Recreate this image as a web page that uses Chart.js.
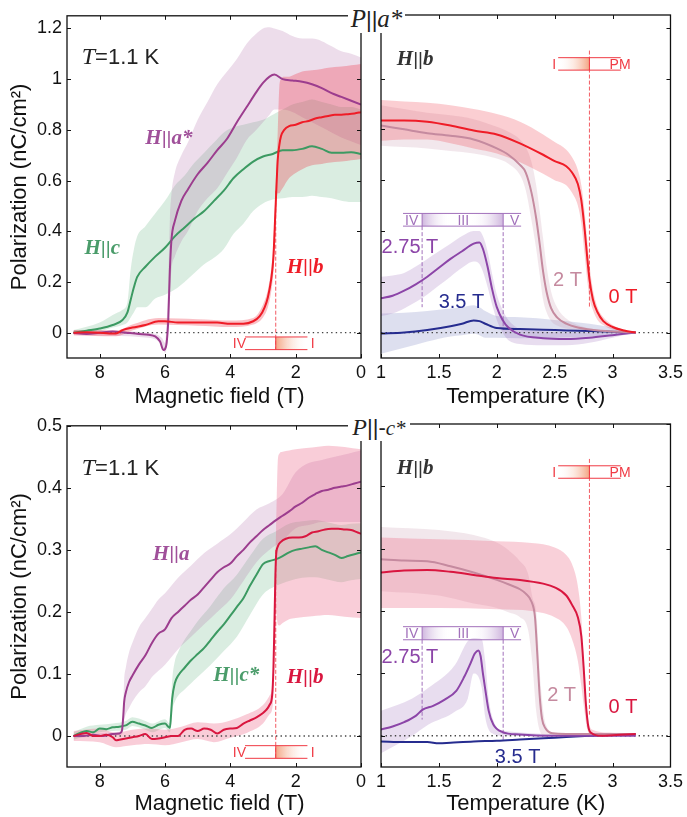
<!DOCTYPE html>
<html>
<head>
<meta charset="utf-8">
<script src="https://cdn.jsdelivr.net/npm/chart.js@4.4.1/dist/chart.umd.min.js"></script>
<style>
  body { margin: 0; background: #fff; width: 687px; height: 817px; position: relative; overflow: hidden; }
  canvas { position: absolute; }
  .ttl { position: absolute; background: #fff; text-align: center; white-space: nowrap; color: #222; }
  .it { font-family: "Liberation Serif", serif; font-style: italic; }
  .bar { font-family: "Liberation Sans", sans-serif; }
</style>
</head>
<body>
<canvas id="tl" width="372" height="410" style="left:0;top:0"></canvas>
<canvas id="tr" width="315" height="410" style="left:372px;top:0"></canvas>
<canvas id="bl" width="372" height="407" style="left:0;top:410px"></canvas>
<canvas id="br" width="315" height="407" style="left:372px;top:410px"></canvas>
<div class="ttl" style="left:348px;top:0;width:57px;height:33px;line-height:33px;padding-top:2px;box-sizing:border-box">
  <span class="it" style="font-size:25px">P</span><span class="bar" style="font-size:22px">||</span><span class="it" style="font-size:25px">a*</span>
</div>
<div class="ttl" style="left:348px;top:410px;width:62px;height:31px;line-height:31px;padding-top:2px;box-sizing:border-box">
  <span class="it" style="font-size:24px">P</span><span class="bar" style="font-size:22px">||-</span><span class="it" style="font-size:21px">c*</span>
</div>

<script>
// ---- axes ----
const fieldTicks = [0, 2, 4, 6, 8];
const fieldTickText = ['0', '2', '4', '6', '8'];
const tempTicks = [1, 1.5, 2, 2.5, 3, 3.5];
const tempTickText = ['1', '1.5', '2', '2.5', '3', '3.5'];
const topPolTicks = [0, 0.2, 0.4, 0.6, 0.8, 1, 1.2];
const topPolTickText = ['0', '0.2', '0.4', '0.6', '0.8', '1', '1.2'];
const botPolTicks = [0, 0.1, 0.2, 0.3, 0.4, 0.5];
const botPolTickText = ['0', '0.1', '0.2', '0.3', '0.4', '0.5'];
const zeroField = [8.8, 0];
const zeroTemp = [1, 3.5];

// ---- P || a*, field sweeps at T = 1.1 K ----
const tlFieldA = [8.8, 8.4, 8.0, 7.6, 7.2, 6.8, 6.5, 6.3, 6.15, 6.05, 6.0, 5.95, 5.9, 5.85, 5.8, 5.7, 5.5, 5.3, 5.0, 4.7, 4.4, 4.1, 3.8, 3.5, 3.2, 3.0, 2.8, 2.65, 2.4, 2.1, 1.8, 1.5, 1.2, 0.9, 0.6, 0.3, 0];
const tlPolA = [0, -0.005, 0, 0.005, 0, -0.005, -0.008, -0.015, -0.035, -0.068, -0.065, -0.04, 0.05, 0.25, 0.37, 0.44, 0.52, 0.565, 0.625, 0.67, 0.72, 0.765, 0.83, 0.89, 0.95, 0.985, 1.01, 1.018, 1.0, 0.995, 0.99, 0.98, 0.965, 0.945, 0.93, 0.915, 0.9];
const tlBandAField = [8.8, 6.5, 6.1, 6.0, 5.9, 5.85, 5.8, 5.7, 5.5, 5.3, 5.0, 4.7, 4.4, 4.1, 3.8, 3.5, 3.2, 3.0, 2.8, 2.65, 2.4, 2.1, 1.8, 1.5, 1.2, 0.9, 0.6, 0.3, 0];
const tlBandAHi = [0.01, 0, -0.02, -0.04, 0.2, 0.45, 0.55, 0.63, 0.7, 0.75, 0.84, 0.91, 0.98, 1.03, 1.08, 1.14, 1.18, 1.2, 1.205, 1.2, 1.19, 1.17, 1.16, 1.16, 1.15, 1.13, 1.11, 1.1, 1.085];
const tlBandALo = [-0.01, -0.02, -0.05, -0.08, 0, 0.15, 0.25, 0.3, 0.36, 0.4, 0.48, 0.53, 0.57, 0.63, 0.69, 0.76, 0.8, 0.83, 0.86, 0.88, 0.88, 0.87, 0.85, 0.83, 0.81, 0.79, 0.77, 0.755, 0.74];

const tlFieldC = [8.8, 8.4, 8.0, 7.6, 7.3, 7.15, 7.05, 6.95, 6.85, 6.6, 6.3, 6.0, 5.7, 5.4, 5.1, 4.8, 4.5, 4.2, 3.9, 3.6, 3.3, 3.0, 2.7, 2.4, 2.1, 1.8, 1.5, 1.2, 0.9, 0.6, 0.3, 0];
const tlPolC = [0, 0.008, 0.016, 0.03, 0.05, 0.08, 0.13, 0.18, 0.22, 0.26, 0.3, 0.335, 0.38, 0.415, 0.45, 0.48, 0.52, 0.56, 0.61, 0.645, 0.675, 0.695, 0.705, 0.72, 0.72, 0.725, 0.735, 0.725, 0.71, 0.71, 0.712, 0.705];
const tlBandCField = [8.8, 8.0, 7.6, 7.3, 7.15, 7.05, 6.95, 6.85, 6.6, 6.3, 6.0, 5.7, 5.4, 5.1, 4.8, 4.5, 4.2, 3.9, 3.6, 3.3, 3.0, 2.7, 2.4, 2.1, 1.8, 1.5, 1.2, 0.9, 0.6, 0.3, 0];
const tlBandCHi = [0.01, 0.04, 0.07, 0.09, 0.12, 0.25, 0.33, 0.38, 0.42, 0.47, 0.52, 0.58, 0.62, 0.67, 0.71, 0.75, 0.79, 0.81, 0.82, 0.83, 0.84, 0.86, 0.88, 0.9, 0.91, 0.92, 0.91, 0.9, 0.89, 0.89, 0.88];
const tlBandCLo = [-0.005, 0.005, 0.02, 0.03, 0.04, 0.06, 0.08, 0.1, 0.1, 0.135, 0.15, 0.17, 0.2, 0.235, 0.27, 0.295, 0.33, 0.39, 0.43, 0.48, 0.51, 0.525, 0.53, 0.535, 0.535, 0.54, 0.535, 0.53, 0.52, 0.515, 0.515];

const tlFieldB = [8.8, 8.4, 8.0, 7.7, 7.5, 7.3, 7.0, 6.6, 6.2, 6.0, 5.6, 5.2, 4.8, 4.4, 4.0, 3.6, 3.3, 3.1, 2.95, 2.85, 2.75, 2.68, 2.62, 2.58, 2.55, 2.5, 2.45, 2.35, 2.2, 2.0, 1.8, 1.6, 1.4, 1.2, 1.0, 0.8, 0.6, 0.4, 0.2, 0];
const tlPolB = [0, 0.002, 0, -0.003, -0.003, 0.01, 0.02, 0.03, 0.045, 0.045, 0.04, 0.04, 0.04, 0.04, 0.035, 0.035, 0.045, 0.065, 0.1, 0.14, 0.21, 0.3, 0.48, 0.6, 0.68, 0.74, 0.775, 0.8, 0.815, 0.82, 0.83, 0.835, 0.845, 0.85, 0.855, 0.86, 0.86, 0.862, 0.865, 0.87];
const tlBandBField = [8.8, 7.5, 7.0, 6.2, 5.0, 4.0, 3.3, 3.0, 2.85, 2.75, 2.68, 2.62, 2.56, 2.5, 2.45, 2.35, 2.2, 2.0, 1.8, 1.5, 1.2, 1.0, 0.6, 0.3, 0];
const tlBandBHi = [0.01, 0.008, 0.032, 0.058, 0.053, 0.048, 0.058, 0.11, 0.17, 0.25, 0.36, 0.55, 0.75, 0.97, 1.0, 1.01, 1.01, 1.02, 1.03, 1.035, 1.04, 1.045, 1.05, 1.055, 1.06];
const tlBandBLo = [-0.01, -0.014, 0.008, 0.032, 0.027, 0.022, 0.032, 0.06, 0.1, 0.16, 0.24, 0.4, 0.55, 0.55, 0.56, 0.58, 0.61, 0.63, 0.645, 0.66, 0.665, 0.67, 0.675, 0.68, 0.685];

// ---- P || a*, temperature sweeps, H || b ----
const trTemp0 = [1.0, 1.2, 1.4, 1.6, 1.8, 2.0, 2.2, 2.4, 2.5, 2.6, 2.65, 2.7, 2.73, 2.76, 2.78, 2.8, 2.83, 2.87, 2.92, 3.0, 3.1, 3.2];
const trPol0 = [0.835, 0.835, 0.83, 0.815, 0.795, 0.78, 0.745, 0.7, 0.675, 0.655, 0.63, 0.585, 0.52, 0.4, 0.3, 0.21, 0.13, 0.08, 0.045, 0.022, 0.008, 0];
const trHi0 = [0.915, 0.91, 0.905, 0.895, 0.88, 0.86, 0.83, 0.78, 0.75, 0.72, 0.69, 0.64, 0.58, 0.47, 0.37, 0.27, 0.17, 0.1, 0.06, 0.03, 0.01, 0];
const trLo0 = [0.755, 0.76, 0.76, 0.745, 0.725, 0.705, 0.67, 0.625, 0.6, 0.58, 0.55, 0.5, 0.43, 0.3, 0.21, 0.14, 0.09, 0.05, 0.03, 0.012, 0.004, 0];

const trTemp2 = [1.0, 1.2, 1.4, 1.6, 1.8, 2.0, 2.1, 2.2, 2.25, 2.3, 2.34, 2.37, 2.4, 2.43, 2.47, 2.52, 2.6, 2.7, 2.9, 3.2];
const trPol2 = [0.815, 0.8, 0.785, 0.775, 0.76, 0.725, 0.7, 0.66, 0.63, 0.55, 0.45, 0.35, 0.24, 0.16, 0.095, 0.06, 0.035, 0.02, 0.007, 0];
const trHi2 = [0.895, 0.88, 0.865, 0.855, 0.84, 0.81, 0.79, 0.76, 0.73, 0.67, 0.58, 0.48, 0.37, 0.26, 0.16, 0.1, 0.055, 0.03, 0.01, 0];
const trLo2 = [0.735, 0.73, 0.725, 0.715, 0.705, 0.685, 0.665, 0.62, 0.56, 0.44, 0.33, 0.23, 0.13, 0.08, 0.045, 0.028, 0.016, 0.01, 0.003, 0];

const trTemp275 = [1.0, 1.1, 1.2, 1.3, 1.4, 1.5, 1.6, 1.7, 1.8, 1.85, 1.88, 1.92, 1.96, 2.0, 2.05, 2.1, 2.2, 2.4, 2.6, 2.8, 3.0, 3.2];
const trPol275 = [0.135, 0.145, 0.165, 0.19, 0.22, 0.255, 0.29, 0.32, 0.35, 0.355, 0.33, 0.26, 0.17, 0.1, 0.05, 0.02, -0.008, -0.022, -0.025, -0.02, -0.01, 0];
const trHi275 = [0.22, 0.225, 0.235, 0.26, 0.29, 0.32, 0.35, 0.38, 0.4, 0.4, 0.38, 0.32, 0.23, 0.15, 0.09, 0.05, 0.015, 0.005, 0, 0, 0, 0];
const trLo275 = [0.065, 0.075, 0.095, 0.12, 0.15, 0.185, 0.22, 0.255, 0.28, 0.27, 0.24, 0.18, 0.11, 0.05, 0, -0.03, -0.045, -0.05, -0.05, -0.04, -0.02, 0];

const trTemp35 = [1.0, 1.2, 1.4, 1.6, 1.7, 1.8, 1.85, 1.9, 2.0, 2.2, 2.5, 2.8, 3.0, 3.2];
const trPol35 = [-0.004, 0, 0.01, 0.025, 0.035, 0.048, 0.045, 0.035, 0.018, 0.014, 0.01, 0.006, 0.003, 0];
const trHi35 = [0.075, 0.078, 0.085, 0.095, 0.1, 0.108, 0.1, 0.085, 0.065, 0.06, 0.05, 0.035, 0.02, 0];
const trLo35 = [-0.083, -0.06, -0.035, -0.015, -0.01, -0.005, -0.01, -0.02, -0.02, -0.022, -0.02, -0.015, -0.008, 0];

// ---- P || -c*, field sweeps at T = 1.1 K ----
const blFieldA = [8.8, 8.5, 8.2, 7.9, 7.6, 7.4, 7.32, 7.28, 7.25, 7.2, 7.1, 7.0, 6.8, 6.6, 6.4, 6.2, 6.0, 5.8, 5.6, 5.4, 5.2, 5.0, 4.8, 4.6, 4.4, 4.2, 4.0, 3.8, 3.6, 3.4, 3.2, 3.0, 2.8, 2.6, 2.4, 2.2, 2.0, 1.8, 1.6, 1.4, 1.2, 1.0, 0.8, 0.6, 0.4, 0.2, 0];
const blPolA = [0, 0, 0.002, 0, 0.003, 0.004, 0.008, 0.03, 0.055, 0.07, 0.087, 0.097, 0.115, 0.13, 0.15, 0.165, 0.172, 0.19, 0.2, 0.21, 0.22, 0.228, 0.24, 0.252, 0.264, 0.272, 0.278, 0.29, 0.3, 0.312, 0.322, 0.332, 0.34, 0.348, 0.355, 0.362, 0.37, 0.376, 0.384, 0.39, 0.395, 0.397, 0.4, 0.402, 0.404, 0.407, 0.41];
const blBandAField = [8.8, 7.4, 7.3, 7.25, 7.2, 7.1, 7.0, 6.8, 6.6, 6.4, 6.2, 6.0, 5.6, 5.2, 4.8, 4.4, 4.0, 3.6, 3.2, 2.8, 2.4, 2.0, 1.6, 1.2, 0.8, 0.4, 0];
const blBandAHi = [0.003, 0.007, 0.02, 0.09, 0.11, 0.135, 0.15, 0.175, 0.19, 0.205, 0.22, 0.23, 0.255, 0.275, 0.295, 0.31, 0.325, 0.345, 0.365, 0.375, 0.39, 0.425, 0.44, 0.445, 0.45, 0.455, 0.46];
const blBandALo = [-0.003, 0.001, 0.004, 0.025, 0.035, 0.045, 0.055, 0.07, 0.08, 0.095, 0.105, 0.115, 0.14, 0.16, 0.18, 0.2, 0.22, 0.25, 0.28, 0.3, 0.315, 0.335, 0.34, 0.345, 0.345, 0.345, 0.345];

const blFieldC = [8.8, 8.6, 8.4, 8.2, 8.0, 7.8, 7.6, 7.4, 7.2, 7.0, 6.8, 6.6, 6.4, 6.2, 6.0, 5.9, 5.85, 5.82, 5.78, 5.7, 5.6, 5.4, 5.2, 5.0, 4.8, 4.6, 4.4, 4.2, 4.0, 3.8, 3.6, 3.4, 3.2, 3.0, 2.8, 2.6, 2.4, 2.2, 2.0, 1.8, 1.6, 1.4, 1.2, 1.0, 0.8, 0.6, 0.4, 0.2, 0];
const blPolC = [0, 0.005, 0.008, 0.006, 0.012, 0.011, 0.014, 0.015, 0.017, 0.023, 0.02, 0.017, 0.013, 0.018, 0.02, 0.015, 0.013, 0.03, 0.06, 0.085, 0.097, 0.11, 0.122, 0.132, 0.142, 0.155, 0.168, 0.18, 0.194, 0.208, 0.222, 0.242, 0.26, 0.277, 0.282, 0.285, 0.29, 0.296, 0.3, 0.302, 0.304, 0.306, 0.3, 0.296, 0.292, 0.287, 0.29, 0.293, 0.296];
const blBandCField = [8.8, 8.4, 8.0, 7.6, 7.2, 7.0, 6.6, 6.4, 6.0, 5.85, 5.82, 5.78, 5.7, 5.6, 5.4, 5.2, 5.0, 4.6, 4.2, 3.8, 3.4, 3.0, 2.6, 2.2, 1.8, 1.4, 1.0, 0.6, 0.3, 0];
const blBandCHi = [0.006, 0.015, 0.018, 0.02, 0.024, 0.03, 0.024, 0.02, 0.027, 0.02, 0.05, 0.09, 0.12, 0.135, 0.155, 0.17, 0.185, 0.21, 0.238, 0.26, 0.29, 0.318, 0.33, 0.342, 0.346, 0.348, 0.344, 0.34, 0.342, 0.343];
const blBandCLo = [-0.006, 0, 0.006, 0.008, 0.01, 0.016, 0.01, 0.006, 0.013, 0.006, 0.015, 0.04, 0.055, 0.065, 0.075, 0.085, 0.095, 0.115, 0.137, 0.16, 0.195, 0.228, 0.242, 0.25, 0.255, 0.256, 0.252, 0.248, 0.251, 0.253];

const blFieldB = [8.8, 8.6, 8.4, 8.2, 8.0, 7.8, 7.6, 7.5, 7.4, 7.2, 7.0, 6.8, 6.6, 6.4, 6.2, 6.0, 5.8, 5.6, 5.4, 5.2, 5.0, 4.8, 4.6, 4.4, 4.2, 4.0, 3.8, 3.6, 3.4, 3.2, 3.0, 2.9, 2.8, 2.72, 2.68, 2.65, 2.62, 2.6, 2.55, 2.45, 2.3, 2.1, 1.9, 1.7, 1.5, 1.3, 1.1, 0.9, 0.7, 0.5, 0.3, 0.1, 0];
const blPolB = [0, 0.003, 0.005, 0, 0, 0.002, -0.002, -0.007, -0.006, -0.004, -0.002, 0, 0.003, -0.005, -0.004, -0.002, 0, 0, 0.01, 0.012, 0.008, 0.012, 0.01, 0.004, 0.01, 0.012, 0.013, 0.02, 0.025, 0.03, 0.037, 0.042, 0.05, 0.065, 0.11, 0.18, 0.26, 0.29, 0.305, 0.313, 0.318, 0.32, 0.32, 0.322, 0.328, 0.33, 0.333, 0.334, 0.334, 0.333, 0.332, 0.328, 0.326];
const blBandBField = [8.8, 8.0, 7.5, 7.0, 6.5, 6.0, 5.5, 5.0, 4.5, 4.0, 3.5, 3.0, 2.8, 2.7, 2.65, 2.6, 2.55, 2.5, 2.4, 2.2, 2.0, 1.5, 1.0, 0.5, 0];
const blBandBHi = [0.008, 0.012, 0.005, 0.01, 0.012, 0.01, 0.015, 0.022, 0.02, 0.025, 0.035, 0.05, 0.065, 0.09, 0.22, 0.33, 0.44, 0.455, 0.458, 0.46, 0.462, 0.465, 0.468, 0.466, 0.462];
const blBandBLo = [-0.008, -0.01, -0.018, -0.015, -0.013, -0.015, -0.01, -0.005, -0.01, -0.003, 0.005, 0.02, 0.035, 0.05, 0.12, 0.2, 0.18, 0.178, 0.182, 0.188, 0.19, 0.193, 0.195, 0.192, 0.19];

// ---- P || -c*, temperature sweeps, H || b ----
const brTemp0 = [1.0, 1.2, 1.4, 1.6, 1.8, 2.0, 2.2, 2.4, 2.5, 2.6, 2.65, 2.7, 2.73, 2.75, 2.77, 2.79, 2.82, 2.9, 3.0, 3.2];
const brPol0 = [0.262, 0.265, 0.266, 0.263, 0.258, 0.253, 0.25, 0.244, 0.238, 0.225, 0.21, 0.19, 0.16, 0.11, 0.05, 0.015, 0.004, 0, 0.001, 0.003];
const brBand0Temp = [1.0, 1.5, 2.0, 2.3, 2.5, 2.6, 2.65, 2.7, 2.73, 2.75, 2.78, 2.82, 3.0, 3.2];
const brHi0 = [0.318, 0.315, 0.312, 0.309, 0.302, 0.29, 0.275, 0.24, 0.19, 0.12, 0.04, 0.01, 0.005, 0.004];
const brLo0 = [0.205, 0.205, 0.203, 0.2, 0.19, 0.175, 0.155, 0.12, 0.08, 0.05, 0.012, 0, 0, 0.002];

const brTemp2 = [1.0, 1.2, 1.4, 1.6, 1.8, 2.0, 2.1, 2.2, 2.25, 2.3, 2.33, 2.35, 2.37, 2.39, 2.42, 2.48, 2.6, 3.2];
const brPol2 = [0.283, 0.281, 0.28, 0.272, 0.262, 0.25, 0.243, 0.235, 0.228, 0.215, 0.19, 0.13, 0.065, 0.028, 0.012, 0.004, 0.003, 0.003];
const brBand2Temp = [1.0, 1.5, 1.8, 2.0, 2.1, 2.2, 2.27, 2.31, 2.34, 2.38, 2.42, 2.5, 3.2];
const brHi2 = [0.335, 0.33, 0.322, 0.31, 0.298, 0.28, 0.26, 0.22, 0.2, 0.08, 0.02, 0.005, 0.003];
const brLo2 = [0.232, 0.225, 0.212, 0.205, 0.198, 0.19, 0.17, 0.11, 0.04, 0.004, 0, 0, 0.003];

const brTemp275 = [1.0, 1.1, 1.2, 1.3, 1.36, 1.45, 1.55, 1.65, 1.72, 1.77, 1.81, 1.84, 1.86, 1.88, 1.9, 1.93, 1.97, 2.05, 2.2, 2.5, 3.2];
const brPol275 = [0.01, 0.015, 0.022, 0.032, 0.042, 0.048, 0.058, 0.072, 0.095, 0.115, 0.132, 0.137, 0.128, 0.1, 0.075, 0.04, 0.018, 0.006, 0.002, 0, 0];
const brBand275Temp = [1.0, 1.27, 1.41, 1.64, 1.75, 1.8, 1.87, 1.9, 1.93, 1.97, 2.05, 3.2];
const brHi275 = [0.04, 0.06, 0.077, 0.114, 0.152, 0.157, 0.155, 0.12, 0.06, 0.025, 0.008, 0];
const brLo275 = [-0.028, 0, 0.018, 0.039, 0.06, 0.1, 0.077, 0.03, 0.01, 0.003, 0, 0];

const brTemp35 = [1.0, 1.2, 1.4, 1.5, 1.6, 1.8, 2.0, 2.2, 2.4, 2.6, 2.8, 3.0, 3.2];
const brPol35 = [-0.009, -0.01, -0.01, -0.012, -0.011, -0.009, -0.008, -0.006, -0.004, -0.002, 0, 0.002, 0.003];

// ---- phase boundaries ----
const fieldPhaseEdges = [3.55, 2.61, 1.64];      // IV | I  (field, T)
const tempPhase0TEdges = [2.53, 2.8, 3.07];      // I | PM  (temperature, K)
const tempPhase275Edges = [1.19, 1.355, 2.055, 2.21]; // IV | III | V

// ---- colours ----
const RED = '#ef1c27', CRIMSON = '#d9163f', PURPLE = '#9c3d8e', GREEN = '#3c9a62';
const PINK = '#c58a9f', VIOLET = '#8c45a8', NAVY = '#262c8f';
const BARRED = '#f03a44', BARVIOLET = '#a271bb';

function pts(xs, ys) { return xs.map((x, i) => ({ x: x, y: ys[i] })); }
function lineSet(xs, ys, color) {
  return { data: pts(xs, ys), borderColor: color, borderWidth: 2, pointRadius: 0, fill: false, cubicInterpolationMode: 'monotone' };
}
function bandSets(xs, hi, lo, color) {
  return [
    { data: pts(xs, hi), borderColor: 'transparent', borderWidth: 0, pointRadius: 0, backgroundColor: color, fill: '+1', cubicInterpolationMode: 'monotone' },
    { data: pts(xs, lo), borderColor: 'transparent', borderWidth: 0, pointRadius: 0, fill: false, cubicInterpolationMode: 'monotone' }
  ];
}
function zeroSet(xs) {
  return { data: pts(xs, [0, 0]), borderColor: '#444', borderWidth: 1.4, borderDash: [1.4, 3.2], pointRadius: 0, fill: false };
}
function dashSet(x, y0, y1, color) {
  return { data: pts([x, x], [y0, y1]), borderColor: color, borderWidth: 1, borderDash: [4, 2], pointRadius: 0, fill: false };
}

const sans = s => s + 'px "Liberation Sans"';
const serifIt = s => 'italic bold ' + s + 'px "Liberation Serif"';

const framePlugin = {
  id: 'frame',
  afterDatasetsDraw(chart) {
    const { ctx, chartArea: a, scales: { x, y } } = chart;
    ctx.save();
    ctx.strokeStyle = '#111';
    ctx.lineWidth = 1.3;
    ctx.strokeRect(a.left, a.top, a.right - a.left, a.bottom - a.top);
    ctx.lineWidth = 1;
    ctx.beginPath();
    x.ticks.forEach(t => {
      const p = Math.round(x.getPixelForValue(t.value)) + 0.5;
      ctx.moveTo(p, a.bottom); ctx.lineTo(p, a.bottom - 4);
      ctx.moveTo(p, a.top); ctx.lineTo(p, a.top + 4);
    });
    y.ticks.forEach(t => {
      const p = Math.round(y.getPixelForValue(t.value)) + 0.5;
      ctx.moveTo(a.left, p); ctx.lineTo(a.left + 4, p);
      ctx.moveTo(a.right, p); ctx.lineTo(a.right - 4, p);
    });
    ctx.stroke();
    ctx.restore();
  }
};

function decoPlugin(spec) {
  return {
    id: 'deco',
    afterDraw(chart) {
      const { ctx, scales: { x, y } } = chart;
      ctx.save();
      (spec.bars || []).forEach(b => {
        const yT = y.getPixelForValue(b.levels[0]), yB = y.getPixelForValue(b.levels[1]);
        b.grads.forEach(g => {
          const p0 = x.getPixelForValue(g.from), p1 = x.getPixelForValue(g.to);
          const gr = ctx.createLinearGradient(p0, 0, p1, 0);
          g.stops.forEach(s => gr.addColorStop(s[0], s[1]));
          ctx.fillStyle = gr;
          ctx.fillRect(Math.min(p0, p1), yT, Math.abs(p1 - p0), yB - yT);
        });
        ctx.strokeStyle = b.color;
        ctx.lineWidth = 1;
        const e0 = x.getPixelForValue(b.edges[0]), e1 = x.getPixelForValue(b.edges[b.edges.length - 1]);
        ctx.beginPath();
        ctx.moveTo(e0, yT); ctx.lineTo(e1, yT);
        ctx.moveTo(e0, yB); ctx.lineTo(e1, yB);
        b.edges.slice(1, -1).forEach(v => {
          const p = x.getPixelForValue(v);
          ctx.moveTo(p, yT); ctx.lineTo(p, yB);
        });
        ctx.stroke();
        ctx.fillStyle = b.color;
        ctx.font = sans(14);
        ctx.textAlign = 'center';
        ctx.textBaseline = 'middle';
        b.texts.forEach(t => ctx.fillText(t[1], x.getPixelForValue(t[0]), (yT + yB) / 2 + 1));
      });
      (spec.labels || []).forEach(l => {
        let w = 0;
        l.parts.forEach(p => { ctx.font = p[1]; w += ctx.measureText(p[0]).width; });
        let cx = x.getPixelForValue(l.x) - (l.align === 'left' ? 0 : w / 2);
        const cy = y.getPixelForValue(l.y);
        ctx.textAlign = 'left';
        ctx.textBaseline = 'middle';
        l.parts.forEach(p => {
          ctx.font = p[1]; ctx.fillStyle = p[2];
          ctx.fillText(p[0], cx, cy);
          cx += ctx.measureText(p[0]).width;
        });
      });
      ctx.restore();
    }
  };
}

function makeChart(id, o) {
  const datasets = [];
  o.lines.forEach(l => datasets.push(lineSet(l[0], l[1], l[2])));
  datasets.push(zeroSet(o.zero));
  o.dashes.forEach(d => datasets.push(dashSet(d[0], d[1], d[2], d[3])));
  o.bands.forEach(b => bandSets(b[0], b[1], b[2], b[3]).forEach(s => datasets.push(s)));
  const tickFont = { family: 'Liberation Sans', size: 18 };
  const titleFont = { family: 'Liberation Sans', size: 22 };
  return new Chart(document.getElementById(id), {
    type: 'line',
    data: { datasets: datasets },
    options: {
      responsive: false, animation: false, devicePixelRatio: 1, events: [],
      layout: { padding: { left: 0, top: o.padTop, right: o.padRight, bottom: 0 } },
      plugins: { legend: { display: false }, tooltip: { enabled: false }, filler: { drawTime: 'beforeDatasetsDraw' } },
      scales: {
        x: {
          type: 'linear', min: o.xMin, max: o.xMax, reverse: o.xReverse,
          grid: { display: false, drawTicks: false }, border: { display: false },
          afterBuildTicks: s => { s.ticks = o.xTicks.map(v => ({ value: v })); },
          afterFit: s => { s.height = o.xHeight; },
          ticks: { autoSkip: false, maxRotation: 0, padding: 4, color: '#111', font: tickFont, callback: (v, i) => o.xTickText[i] },
          title: { display: true, text: o.xTitle, color: '#111', font: titleFont, padding: { top: 0, bottom: 0 } }
        },
        y: {
          type: 'linear', min: o.yMin, max: o.yMax,
          grid: { display: false, drawTicks: false }, border: { display: false },
          afterBuildTicks: s => { s.ticks = o.yTicks.map(v => ({ value: v })); },
          afterFit: s => { s.width = o.yWidth; },
          ticks: { display: o.yLabels, padding: 5, color: '#111', font: tickFont, callback: (v, i) => o.yTickText[i] },
          title: { display: o.yLabels, text: 'Polarization (nC/cm²)', color: '#111', font: titleFont, padding: { top: 7, bottom: 0 } }
        }
      }
    },
    plugins: [framePlugin, decoPlugin(o.deco)]
  });
}

const redGrad = 'rgba(242,150,110,0.85)';
const fieldBar = (lv) => ({
  edges: fieldPhaseEdges, levels: lv, color: BARRED,
  grads: [{ from: fieldPhaseEdges[1], to: fieldPhaseEdges[2], stops: [[0, redGrad], [1, 'rgba(255,255,255,0)']] }],
  texts: [[3.72, 'IV'], [1.48, 'I']]
});
const tempBar0 = (lv) => ({
  edges: tempPhase0TEdges, levels: lv, color: BARRED,
  grads: [{ from: tempPhase0TEdges[0], to: tempPhase0TEdges[1], stops: [[0, 'rgba(255,255,255,0)'], [1, redGrad]] }],
  texts: [[2.495, 'I'], [3.065, 'PM']]
});
const tempBar275 = (lv) => ({
  edges: tempPhase275Edges, levels: lv, color: BARVIOLET,
  grads: [{ from: tempPhase275Edges[1], to: tempPhase275Edges[2], stops: [[0, 'rgba(160,110,190,0.5)'], [0.35, 'rgba(255,255,255,0)'], [0.6, 'rgba(255,255,255,0)'], [1, 'rgba(160,110,190,0.5)']] }],
  texts: [[1.265, 'IV'], [1.71, 'III'], [2.155, 'V']]
});
const tLabel = (x, y) => ({ x: x, y: y, align: 'left', parts: [['T', 'italic 24px "Liberation Serif"', '#222'], ['=1.1 K', sans(22), '#222']] });
const hLabel = (x, y, sub, color) => ({ x: x, y: y, parts: [['H', serifIt(21), color], ['||', sans(19), color], [sub, serifIt(21), color]] });
const tLbl = (x, y, text, color) => ({ x: x, y: y, parts: [[text, sans(20), color]] });

makeChart('tl', {
  padTop: 15, padRight: 11, xHeight: 52, yWidth: 67, yLabels: true,
  xMin: 0, xMax: 9, xReverse: true, xTicks: fieldTicks, xTickText: fieldTickText, xTitle: '\u2002Magnetic field (T)',
  yMin: -0.1, yMax: 1.25, yTicks: topPolTicks, yTickText: topPolTickText,
  lines: [[tlFieldB, tlPolB, RED], [tlFieldA, tlPolA, PURPLE], [tlFieldC, tlPolC, GREEN]],
  zero: zeroField,
  dashes: [[fieldPhaseEdges[1], 0.56, -0.067, '#f25a62']],
  bands: [[tlBandBField, tlBandBHi, tlBandBLo, 'rgba(238,45,65,0.3)'],
          [tlBandAField, tlBandAHi, tlBandALo, 'rgba(165,85,155,0.2)'],
          [tlBandCField, tlBandCHi, tlBandCLo, 'rgba(70,165,105,0.2)']],
  deco: {
    bars: [fieldBar([-0.017, -0.067])],
    labels: [tLabel(8.55, 1.085), hLabel(5.88, 0.766, 'a*', '#a0509a'), hLabel(7.92, 0.332, 'c', '#4a9c6a'), hLabel(1.71, 0.258, 'b', RED)]
  }
});

makeChart('tr', {
  padTop: 15, padRight: 15, xHeight: 52, yWidth: 6, yLabels: false,
  xMin: 1, xMax: 3.5, xReverse: false, xTicks: tempTicks, xTickText: tempTickText, xTitle: 'Temperature (K)',
  yMin: -0.1, yMax: 1.25, yTicks: topPolTicks, yTickText: topPolTickText,
  lines: [[trTemp0, trPol0, RED], [trTemp2, trPol2, PINK], [trTemp275, trPol275, VIOLET], [trTemp35, trPol35, NAVY]],
  zero: zeroTemp,
  dashes: [[tempPhase0TEdges[1], 1.11, 0.095, '#f25a62'], [tempPhase275Edges[1], 0.419, 0.1, BARVIOLET], [tempPhase275Edges[2], 0.419, 0.01, BARVIOLET]],
  bands: [[trTemp0, trHi0, trLo0, 'rgba(238,60,75,0.25)'],
          [trTemp2, trHi2, trLo2, 'rgba(195,145,170,0.22)'],
          [trTemp275, trHi275, trLo275, 'rgba(150,100,180,0.22)'],
          [trTemp35, trHi35, trLo35, 'rgba(100,110,180,0.22)']],
  deco: {
    bars: [tempBar0([1.082, 1.033]), tempBar275([0.469, 0.419])],
    labels: [hLabel(1.295, 1.073, 'b', '#333'), tLbl(1.25, 0.336, '2.75 T', VIOLET), tLbl(1.695, 0.12, '3.5 T', NAVY),
             tLbl(2.61, 0.206, '2 T', PINK), tLbl(3.09, 0.139, '0 T', RED)]
  }
});

makeChart('bl', {
  padTop: 14, padRight: 11, xHeight: 50, yWidth: 67, yLabels: true,
  xMin: 0, xMax: 9, xReverse: true, xTicks: fieldTicks, xTickText: fieldTickText, xTitle: '\u2002Magnetic field (T)',
  yMin: -0.05, yMax: 0.5, yTicks: botPolTicks, yTickText: botPolTickText,
  lines: [[blFieldB, blPolB, CRIMSON], [blFieldA, blPolA, PURPLE], [blFieldC, blPolC, GREEN]],
  zero: zeroField,
  dashes: [[fieldPhaseEdges[1], 0.3, -0.036, '#f25a62']],
  bands: [[blBandBField, blBandBHi, blBandBLo, 'rgba(235,90,125,0.3)'],
          [blBandAField, blBandAHi, blBandALo, 'rgba(165,85,155,0.2)'],
          [blBandCField, blBandCHi, blBandCLo, 'rgba(70,165,105,0.2)']],
  deco: {
    bars: [fieldBar([-0.0156, -0.036])],
    labels: [tLabel(8.55, 0.431), hLabel(5.81, 0.293, 'a', '#a0509a'), hLabel(3.82, 0.0975, 'c*', '#4a9c6a'), hLabel(1.71, 0.094, 'b', CRIMSON)]
  }
});

makeChart('br', {
  padTop: 14, padRight: 15, xHeight: 50, yWidth: 6, yLabels: false,
  xMin: 1, xMax: 3.5, xReverse: false, xTicks: tempTicks, xTickText: tempTickText, xTitle: 'Temperature (K)',
  yMin: -0.05, yMax: 0.5, yTicks: botPolTicks, yTickText: botPolTickText,
  lines: [[brTemp0, brPol0, CRIMSON], [brTemp2, brPol2, PINK], [brTemp275, brPol275, VIOLET], [brTemp35, brPol35, NAVY]],
  zero: zeroTemp,
  dashes: [[tempPhase0TEdges[1], 0.444, 0.034, '#f25a62'], [tempPhase275Edges[1], 0.154, 0.026, BARVIOLET], [tempPhase275Edges[2], 0.154, -0.009, BARVIOLET]],
  bands: [[brBand0Temp, brHi0, brLo0, 'rgba(235,100,130,0.3)'],
          [brBand2Temp, brHi2, brLo2, 'rgba(195,145,170,0.22)'],
          [brBand275Temp, brHi275, brLo275, 'rgba(150,100,180,0.22)']],
  deco: {
    bars: [tempBar0([0.433, 0.413]), tempBar275([0.175, 0.154])],
    labels: [hLabel(1.295, 0.429, 'b', '#333'), tLbl(1.25, 0.126, '2.75 T', VIOLET), tLbl(2.56, 0.065, '2 T', PINK),
             tLbl(3.09, 0.046, '0 T', CRIMSON), tLbl(2.18, -0.034, '3.5 T', NAVY)]
  }
});
</script>
</body>
</html>
